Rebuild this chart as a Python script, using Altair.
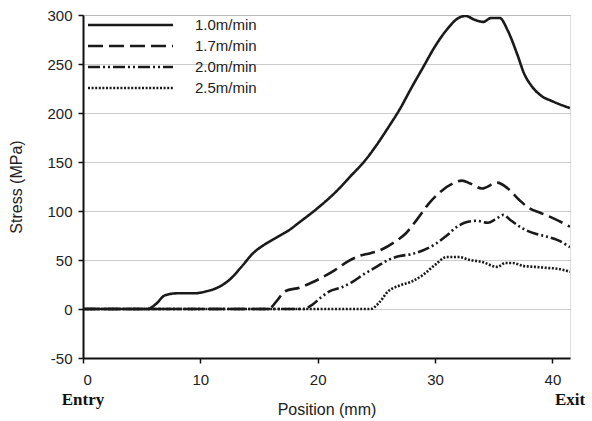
import altair as alt
import pandas as pd

series_names = ["1.0m/min", "1.7m/min", "2.0m/min", "2.5m/min"]

x_10 = [0, 5.5, 6.2, 7, 8, 9.5, 10.5, 11.5, 12.5, 13.5, 14.5, 15.5, 16.5, 17.5, 18.5, 20, 21.5, 23, 24, 25, 26, 27, 28, 29, 30, 31, 32, 32.6, 33.4, 34.1, 34.8, 35.5, 36.2, 37, 37.6, 38.2, 39, 40, 41.5]
y_10 = [0, 0, 5, 14, 16, 16, 18, 22, 30, 43, 57, 66, 73, 80, 89, 103, 119, 138, 151, 167, 185, 204, 226, 247, 268, 285, 297, 299, 295, 293, 297, 297, 284, 260, 240, 228, 218, 212, 205]

x_17 = [0, 15.8, 16.5, 17.2, 18.5, 19.5, 20.5, 21.5, 22.5, 23.5, 24.5, 25.5, 26.5, 27.5, 28.5, 29.5, 30.5, 31.5, 32.3, 33, 34, 35.3, 36.2, 37.2, 38, 39, 40, 41.5]
y_17 = [0, 0, 8, 18, 22, 27, 33, 40, 48, 54, 57, 61, 68, 77, 92, 108, 120, 128, 131, 128, 123, 129, 123, 111, 103, 98, 93, 84]

x_20 = [0, 18.8, 19.5, 20.3, 21, 22, 23, 24, 25, 26, 27, 28, 29, 30, 31, 32, 32.8, 33.5, 34.5, 35.2, 35.8, 36.5, 37.5, 38.5, 39.5, 40.5, 41.5]
y_20 = [0, 0, 4, 12, 18, 22, 28, 36, 43, 50, 54, 56, 60, 66, 75, 85, 89, 90, 88, 92, 96, 90, 82, 77, 74, 70, 63]

x_25 = [0, 24.5, 25.2, 26, 27, 28, 29, 30, 31, 32, 33, 34, 35.3, 36, 36.6, 37.5, 38.5, 39.5, 40.5, 41.5]
y_25 = [0, 0, 6, 18, 24, 28, 35, 45, 53, 53, 50, 48, 43, 47, 47, 44, 43, 42, 41, 38]

end_labels = ["Entry", "Exit"]
end_positions = [0, 41.5]

dash_styles = [[1, 0], [15, 6], [12, 3, 2, 3, 2, 3], [2, 1.6]]

rows = []
for name, xs, ys in zip(series_names, [x_10, x_17, x_20, x_25], [y_10, y_17, y_20, y_25]):
    for i, (a, b) in enumerate(zip(xs, ys)):
        rows.append({"series": name, "pos": a, "stress": b, "order": i})
df = pd.DataFrame(rows)

W, H = 487, 343
LINE = "#1a1a1a"

xscale = alt.Scale(domain=[0, 41.5], nice=False, zero=False)
yscale = alt.Scale(domain=[-50, 300], nice=False)
dash_scale = alt.Scale(domain=series_names, range=dash_styles)

lines = alt.Chart(df).mark_line(strokeWidth=2.6, color=LINE, interpolate="monotone", clip=True).encode(
    x=alt.X("pos:Q", scale=xscale,
            axis=alt.Axis(title="Position (mm)", values=[0, 10, 20, 30, 40], grid=False,
                          domainColor="#111", domainWidth=2, tickColor="#111", tickWidth=1.5, tickSize=5,
                          labelFont="Liberation Sans", labelFontSize=15, labelColor="#222", labelPadding=9,
                          titleFont="Liberation Sans", titleFontSize=16, titleFontWeight="normal",
                          titleColor="#222", titlePadding=14)),
    y=alt.Y("stress:Q", scale=yscale,
            axis=alt.Axis(title="Stress (MPa)", values=[-50, 0, 50, 100, 150, 200, 250, 300],
                          labelExpr="'' + datum.value",
                          grid=True, gridColor="#999", gridDash=[1, 1], gridWidth=1,
                          domainColor="#111", domainWidth=2, tickColor="#111", tickWidth=1.5, tickSize=5,
                          labelFont="Liberation Sans", labelFontSize=15, labelColor="#222", labelPadding=6,
                          titleFont="Liberation Sans", titleFontSize=16, titleFontWeight="normal",
                          titleColor="#222", titlePadding=22)),
    strokeDash=alt.StrokeDash("series:N", scale=dash_scale, legend=None),
    detail="series:N",
    order="order:Q",
)

leg_df = pd.DataFrame({"series": series_names})
leg_y = alt.Y("series:N", sort=series_names, axis=None,
              scale=alt.Scale(type="point", domain=series_names, range=[10, 73], padding=0))
leg_lines = alt.Chart(leg_df).mark_rule(strokeWidth=2.6, color=LINE).encode(
    x=alt.value(5), x2=alt.value(90), y=leg_y,
    strokeDash=alt.StrokeDash("series:N", scale=dash_scale, legend=None),
)
leg_text = alt.Chart(leg_df).mark_text(align="left", baseline="middle", font="Liberation Sans",
                                       fontSize=15, color="#222").encode(
    x=alt.value(112), y=leg_y, text="series:N",
)

ends = pd.DataFrame({"label": end_labels, "pos": end_positions})
end_text = alt.Chart(ends).mark_text(font="Liberation Serif", fontSize=17, fontWeight="bold",
                                     color="#111", baseline="middle").encode(
    x=alt.X("pos:Q", scale=xscale),
    y=alt.value(H + 42),
    text="label:N",
)

chart = alt.layer(lines, end_text, leg_lines, leg_text).resolve_scale(y="independent").properties(
    width=W, height=H,
    autosize=alt.AutoSizeParams(type="none"),
    padding={"left": 83, "top": 15, "right": 22, "bottom": 63},
).configure_view(stroke="#111", strokeWidth=2).configure(background="white")

chart.save("out.html", embed_options={"renderer": "svg", "actions": False})
